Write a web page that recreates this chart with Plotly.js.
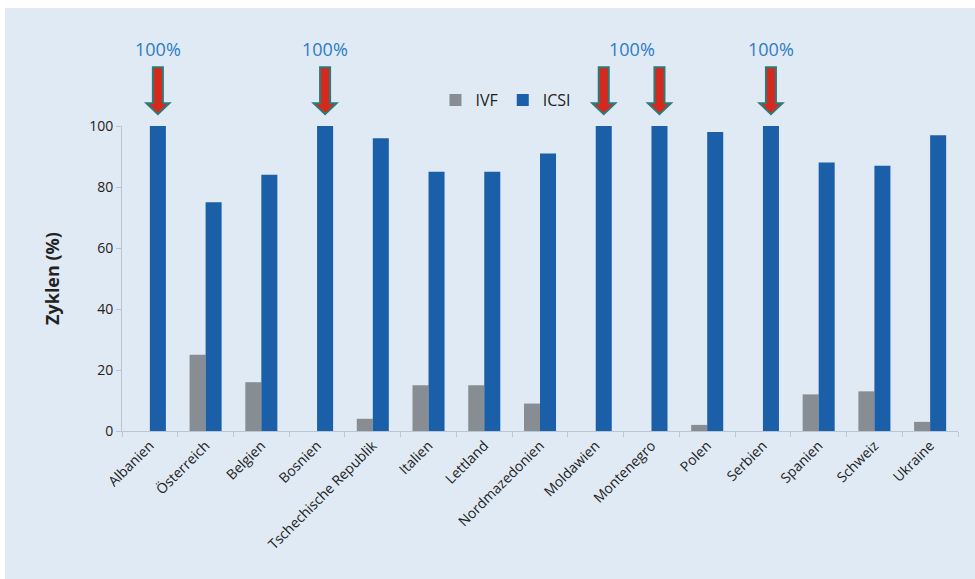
<!DOCTYPE html>
<html>
<head>
<meta charset="utf-8">
<script src="https://cdn.plot.ly/plotly-3.0.1.min.js"></script>
<style>
  html, body { margin: 0; padding: 0; background: #ffffff; }
  #chart { position: absolute; left: 5px; top: 8px; width: 970px; height: 571px; }
</style>
</head>
<body>
<div id="chart"></div>
<script>
// Share of IVF and ICSI cycles per country (%)
const countries = ["Albanien", "Österreich", "Belgien", "Bosnien", "Tschechische Republik",
  "Italien", "Lettland", "Nordmazedonien", "Moldawien", "Montenegro", "Polen", "Serbien",
  "Spanien", "Schweiz", "Ukraine"];
const ivf  = [0, 25, 16, 0, 4, 15, 15, 9, 0, 0, 2, 0, 12, 13, 3];
const icsi = [100, 75, 84, 100, 96, 85, 85, 91, 100, 100, 98, 100, 88, 87, 97];
const highlightLabel = "100%";

const idx = countries.map((_, i) => i);
const bargap = 0.425;
const barW = (1 - bargap) / 2;          // width of one bar in category units
const icsiOffset = barW / 2;            // centre of the ICSI bar relative to the category

const font = "Open Sans, Noto Sans, sans-serif";

const traces = [
  { type: "bar", name: "IVF", x: idx, y: ivf, marker: { color: "#878d92" } },
  { type: "bar", name: "ICSI", x: idx, y: icsi, marker: { color: "#1a5fa8" } }
];

// Block arrows above every category where ICSI reaches 100 %
const full = idx.filter(i => icsi[i] === 100);
const shapes = full.map(i => {
  const c = i + icsiOffset, sh = 0.09, hh = 0.206;
  const top = 1.193, neck = 1.075, tip = 1.039;
  return {
    type: "path", xref: "x", yref: "paper", layer: "above",
    path: `M${c - sh},${top} L${c + sh},${top} L${c + sh},${neck} L${c + hh},${neck} ` +
          `L${c},${tip} L${c - hh},${neck} L${c - sh},${neck} Z`,
    fillcolor: "#d7281d", line: { color: "#2c7b7a", width: 2 }
  };
});

// One "100%" label per run of adjacent highlighted categories
const groups = [];
full.forEach(i => {
  const g = groups[groups.length - 1];
  if (g && g[g.length - 1] === i - 1) g.push(i); else groups.push([i]);
});
const annotations = groups.map(g => ({
  xref: "x", yref: "paper",
  x: g.reduce((s, i) => s + i, 0) / g.length + icsiOffset,
  y: 1.252, yanchor: "middle", showarrow: false,
  text: highlightLabel,
  font: { family: font, size: 18, color: "#2d7cc3" }
}));

const layout = {
  width: 970, height: 571,
  margin: { l: 117, r: 17, t: 118, b: 148 },
  paper_bgcolor: "#e0eaf4", plot_bgcolor: "#e0eaf4",
  barmode: "group", bargap: bargap, bargroupgap: 0,
  font: { family: font, color: "#222222" },
  showlegend: true,
  legend: {
    orientation: "h", x: 0.375, xanchor: "left", y: 1.085, yanchor: "middle",
    bgcolor: "rgba(0,0,0,0)", font: { size: 16, color: "#222" },
    itemwidth: 30, traceorder: "normal"
  },
  xaxis: {
    type: "linear", range: [-0.5, countries.length - 0.5],
    tickmode: "array", tickvals: idx, ticktext: countries,
    tickangle: -45, ticks: "", tickfont: { size: 14, color: "#222" },
    showline: true, linecolor: "#b9c5d2", linewidth: 1,
    showgrid: false, zeroline: false,
    minor: { tickmode: "linear", tick0: -0.5, dtick: 1, ticks: "outside", ticklen: 5,
             tickcolor: "#b9c5d2", showgrid: false }
  },
  yaxis: {
    range: [0, 100], tickvals: [0, 20, 40, 60, 80, 100],
    ticks: "outside", ticklen: 5, tickcolor: "#b9c5d2",
    tickfont: { size: 14, color: "#222" },
    showline: true, linecolor: "#b9c5d2", linewidth: 1,
    showgrid: false, zeroline: false,
    title: { text: "<b>Zyklen (%)</b>", font: { size: 18, color: "#222" }, standoff: 24 }
  },
  shapes: shapes,
  annotations: annotations
};

Plotly.newPlot("chart", traces, layout, { displayModeBar: false, staticPlot: true });
</script>
</body>
</html>
